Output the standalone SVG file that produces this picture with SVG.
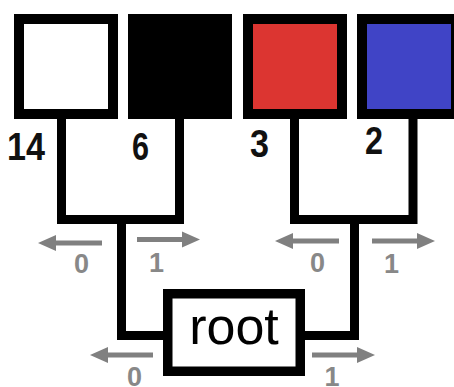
<svg xmlns="http://www.w3.org/2000/svg" width="454" height="387" viewBox="0 0 454 387">
<defs>
<style>
.leaf{stroke:#000;stroke-width:10}
.wire{fill:none;stroke:#000;stroke-width:9;stroke-linejoin:miter}
.arr{stroke:#808080;stroke-width:5;fill:none}
.num{font-family:"Liberation Sans",Arial,sans-serif;font-weight:bold;font-size:38px;fill:#111}
.bit{font-family:"Liberation Sans",Arial,sans-serif;font-weight:bold;font-size:27px;fill:#888;text-anchor:middle}
.root{font-family:"Liberation Sans",Arial,sans-serif;font-size:52px;fill:#000;text-anchor:middle}
</style>
<marker id="head" markerUnits="userSpaceOnUse" markerWidth="20" markerHeight="18" viewBox="0 -9 20 18" refX="0" refY="0" orient="auto">
<path d="M0,-8 L18,0 L0,8 z" fill="#808080"/>
</marker>
</defs>
<rect width="454" height="387" fill="#fff"/>
<g id="connectors">
<path class="wire" d="M61.5,119 V219.5 H179.5 V119"/>
<path class="wire" d="M294.5,119 V219.5 H413 V119"/>
<path class="wire" d="M121.5,219.5 V335.5 H168"/>
<path class="wire" d="M354.5,219.5 V335.5 H300"/>
<line class="arr" x1="102" y1="243" x2="56" y2="243" marker-end="url(#head)"/>
<line class="arr" x1="137" y1="239.5" x2="182" y2="239.5" marker-end="url(#head)"/>
<line class="arr" x1="339" y1="241" x2="293" y2="241" marker-end="url(#head)"/>
<line class="arr" x1="372" y1="241" x2="417" y2="241" marker-end="url(#head)"/>
<line class="arr" x1="153" y1="355" x2="108" y2="355" marker-end="url(#head)"/>
<line class="arr" x1="312" y1="355" x2="357" y2="355" marker-end="url(#head)"/>
<text class="bit" x="81.5" y="273">0</text>
<text class="bit" x="156.5" y="272">1</text>
<text class="bit" x="317.5" y="272">0</text>
<text class="bit" x="391.5" y="273">1</text>
<text class="bit" x="134.5" y="386">0</text>
<text class="bit" x="332" y="386">1</text>
</g>
<g id="leaf-white">
<rect class="leaf" x="19" y="19" width="94" height="95" fill="#fff"/>
<text class="num" x="7" y="160" textLength="38" lengthAdjust="spacingAndGlyphs">14</text>
</g>
<g id="leaf-black">
<rect class="leaf" x="133" y="19" width="94" height="95" fill="#000"/>
<text class="num" x="132" y="160" textLength="17" lengthAdjust="spacingAndGlyphs">6</text>
</g>
<g id="leaf-red">
<rect class="leaf" x="248" y="19" width="94" height="95" fill="#dc3531"/>
<text class="num" x="250" y="157" textLength="19" lengthAdjust="spacingAndGlyphs">3</text>
</g>
<g id="leaf-blue">
<rect class="leaf" x="362" y="19" width="94" height="95" fill="#4044c6"/>
<text class="num" x="365" y="154" textLength="18" lengthAdjust="spacingAndGlyphs">2</text>
</g>
<g id="root">
<rect x="167.75" y="293.75" width="132.5" height="77.5" fill="#fff" stroke="#000" stroke-width="9.5"/>
<text class="root" x="234" y="344">root</text>
</g>
</svg>
